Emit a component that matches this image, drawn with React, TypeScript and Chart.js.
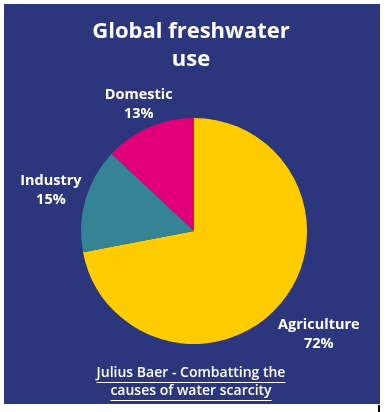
import React, { useEffect, useRef } from "react";
import { Chart, registerables } from "chart.js";

Chart.register(...registerables);

const categories = ["Agriculture", "Industry", "Domestic"];
const shares = [72, 15, 13];
const sliceColors = ["#FFCC00", "#348496", "#E2007A"];
const titleLines = ["Global freshwater", "use"];
const footerLines = ["Julius Baer - Combatting the", "causes of water scarcity"];

const BG = "#2C367C";
const FONT = "'Open Sans', 'DejaVu Sans', sans-serif";
// extra distance outside the pie for each category label
const labelGap = [49, 36, 26];

const decorPlugin = {
  id: "decor",
  beforeDraw(chart: any) {
    const { ctx, width, height } = chart;
    ctx.save();
    ctx.fillStyle = "#ffffff";
    ctx.fillRect(0, 0, width, height);
    ctx.fillStyle = BG;
    ctx.fillRect(4, 4, 376, 400);
    ctx.fillStyle = "#000000";
    ctx.fillRect(378, 405, 2, 7);
    ctx.restore();
  },
  afterDatasetsDraw(chart: any) {
    const { ctx } = chart;
    ctx.save();
    ctx.fillStyle = "#ffffff";
    ctx.textAlign = "center";
    ctx.textBaseline = "middle";
    // title
    ctx.font = `bold 22px ${FONT}`;
    ctx.fillText(titleLines[0], 191, 32);
    ctx.fillText(titleLines[1], 191, 60);
    // slice labels
    const meta = chart.getDatasetMeta(0);
    ctx.font = `bold 14.5px ${FONT}`;
    meta.data.forEach((arc: any, i: number) => {
      const p = arc.getProps(["x", "y", "startAngle", "endAngle", "outerRadius"], true);
      const mid = (p.startAngle + p.endAngle) / 2;
      const r = p.outerRadius + labelGap[i];
      const cx = p.x + Math.cos(mid) * r;
      const cy = p.y + Math.sin(mid) * r;
      ctx.fillText(String(chart.data.labels[i]), cx, cy - 9);
      ctx.fillText(`${chart.data.datasets[0].data[i]}%`, cx, cy + 10);
    });
    // footer
    ctx.font = `600 14px ${FONT}`;
    ctx.strokeStyle = "#ffffff";
    ctx.lineWidth = 1;
    const ys = [373, 391];
    footerLines.forEach((t, i) => {
      ctx.fillText(t, 191, ys[i]);
      const w = ctx.measureText(t).width;
      ctx.beginPath();
      ctx.moveTo(191 - w / 2, ys[i] + 9.5);
      ctx.lineTo(191 + w / 2, ys[i] + 9.5);
      ctx.stroke();
    });
    ctx.restore();
  },
};

export default function App() {
  const ref = useRef<HTMLCanvasElement | null>(null);
  useEffect(() => {
    if (!ref.current) return;
    const chart = new Chart(ref.current, {
      type: "pie",
      data: {
        labels: categories,
        datasets: [
          {
            data: shares,
            backgroundColor: sliceColors,
            borderWidth: 0,
          },
        ],
      },
      options: {
        responsive: false,
        animation: false,
        layout: { padding: { left: 81, right: 80, top: 118, bottom: 68 } },
        plugins: {
          legend: { display: false },
          tooltip: { enabled: false },
          title: { display: false },
        },
      },
      plugins: [decorPlugin],
    });
    return () => chart.destroy();
  }, []);
  return (
    <div style={{ position: "fixed", left: 0, top: 0, width: 387, height: 412, background: "#fff" }}>
      <canvas ref={ref} width={387} height={412} style={{ display: "block" }} />
    </div>
  );
}
